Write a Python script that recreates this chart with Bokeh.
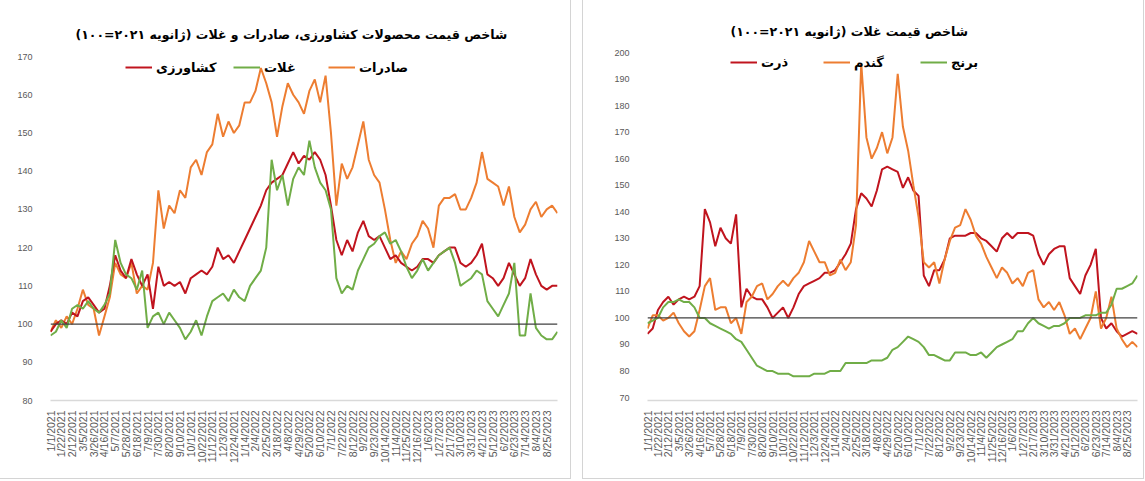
import math
from bokeh.plotting import figure
from bokeh.models import Range1d, FixedTicker, Span, Legend, LegendItem, Title
from bokeh.layouts import row
from bokeh.embed import file_html
from bokeh.resources import INLINE

# ---------------- data ----------------
tick_labels = ["1/1/2021", "1/22/2021", "2/12/2021", "3/5/2021", "3/26/2021", "4/16/2021",
               "5/7/2021", "5/28/2021", "6/18/2021", "7/9/2021", "7/30/2021", "8/20/2021",
               "9/10/2021", "10/1/2021", "10/22/2021", "11/12/2021", "12/3/2021", "12/24/2021",
               "1/14/2022", "2/4/2022", "2/25/2022", "3/18/2022", "4/8/2022", "4/29/2022",
               "5/20/2022", "6/10/2022", "7/1/2022", "7/22/2022", "8/12/2022", "9/2/2022",
               "9/23/2022", "10/14/2022", "11/4/2022", "11/25/2022", "12/16/2022", "1/6/2023",
               "1/27/2023", "2/17/2023", "3/10/2023", "3/31/2023", "4/21/2023", "5/12/2023",
               "6/2/2023", "6/23/2023", "7/14/2023", "8/4/2023", "8/25/2023"]
tick_step_days = 21
sample_step_days = 10.5

agri = [98, 100, 101, 100, 103, 102, 106, 107, 105, 103,
        104, 110, 118, 114, 112, 117, 113, 110, 113, 104,
        115, 110, 111, 110, 111, 108, 112, 113, 114, 113,
        115, 120, 117, 118, 116, 119, 122, 125, 128, 131,
        135, 137, 138, 139, 142, 145, 142, 144, 143, 145,
        143, 139, 131, 122, 118, 122, 119, 124, 127, 123,
        122, 123, 120, 117, 118, 116, 115, 114, 115, 117,
        117, 116, 118, 119, 120, 120, 116, 115, 116, 118,
        121, 113, 112, 110, 112, 116, 113, 110, 112, 117,
        113, 110, 109, 110, 110]
cereals = [97, 98, 101, 99, 104, 105, 104, 106, 104, 103,
           105, 108, 122, 116, 113, 112, 109, 114, 99, 102,
           103, 100, 103, 101, 99, 96, 98, 101, 97, 102,
           106, 107, 108, 106, 109, 107, 106, 110, 112, 114,
           120, 143, 135, 139, 131, 138, 141, 139, 148, 141,
           137, 135, 130, 112, 108, 110, 109, 114, 117, 120,
           121, 123, 124, 121, 122, 119, 115, 112, 114, 117,
           114, 116, 118, 119, 120, 116, 110, 111, 112, 114,
           113, 106, 104, 102, 105, 108, 116, 97, 97, 108,
           99, 97, 96, 96, 98]
exports = [98, 101, 99, 102, 100, 104, 109, 105, 104, 97,
           102, 107, 116, 113, 112, 116, 108, 110, 109, 116,
           135, 125, 131, 129, 135, 133, 141, 143, 139, 145,
           147, 155, 149, 153, 150, 152, 158, 158, 161, 167,
           163, 158, 149, 157, 163, 160, 158, 155, 161, 164,
           158, 165, 150, 131, 142, 138, 141, 147, 153, 143,
           139, 137, 130, 122, 116, 119, 117, 121, 123, 127,
           125, 120, 131, 133, 133, 134, 130, 130, 133, 137,
           145, 138, 137, 136, 131, 136, 128, 124, 126, 130,
           132, 128, 130, 131, 129]

corn = [94, 96, 103, 106, 108, 105, 107, 108, 107, 108,
        112, 141, 136, 127, 134, 130, 128, 139, 104, 111,
        108, 107, 107, 104, 100, 102, 104, 100, 104, 109,
        112, 113, 114, 115, 117, 117, 118, 121, 124, 128,
        141, 147, 145, 142, 148, 156, 157, 156, 155, 149,
        153, 148, 146, 116, 112, 118, 118, 122, 130, 131,
        131, 131, 132, 132, 130, 129, 127, 125, 130, 132,
        130, 132, 132, 132, 131, 124, 120, 124, 126, 127,
        127, 115, 112, 109, 116, 120, 126, 100, 96, 98,
        95, 93, 94, 95, 94]
wheat = [96, 101, 101, 99, 100, 102, 98, 95, 93, 95,
         103, 112, 115, 103, 104, 104, 98, 100, 94, 106,
         108, 112, 113, 107, 109, 112, 114, 112, 115, 117,
         121, 129, 125, 121, 121, 116, 117, 122, 118, 121,
         135, 196, 168, 160, 164, 170, 162, 168, 192, 172,
         163, 150, 138, 121, 119, 121, 113, 122, 129, 134,
         135, 141, 137, 131, 128, 123, 119, 115, 119, 117,
         113, 115, 112, 117, 118, 107, 104, 106, 103, 106,
         101, 94, 96, 92, 96, 100, 110, 96, 100, 108,
         96, 92, 89, 91, 89]
rice = [98, 99, 100, 104, 106, 106, 107, 106, 106, 104,
        100, 100, 98, 97, 96, 95, 94, 92, 91, 88,
        85, 82, 81, 80, 80, 79, 79, 79, 78, 78,
        78, 78, 79, 79, 79, 80, 80, 80, 83, 83,
        83, 83, 83, 84, 84, 84, 85, 88, 89, 91,
        93, 92, 91, 89, 86, 86, 85, 84, 84, 87,
        87, 87, 86, 86, 87, 85, 87, 89, 90, 91,
        92, 95, 95, 98, 100, 98, 97, 96, 97, 97,
        98, 100, 100, 100, 101, 101, 101, 102, 102, 105,
        111, 111, 112, 113, 116]

title_left = "شاخص قیمت محصولات کشاورزی، صادرات و غلات (ژانویه ۲۰۲۱=۱۰۰)\u200f"
title_right = "شاخص قیمت غلات (ژانویه ۲۰۲۱=۱۰۰)\u200f"
names_left = ["کشاورزی", "غلات", "صادرات"]
names_right = ["ذرت", "گندم", "برنج"]

RED = "#C0141E"
GREEN = "#70AD47"
ORANGE = "#ED7D31"
FA_FONT = "DejaVu Sans"

days = [i * sample_step_days for i in range(len(agri))]
tick_pos = [i * tick_step_days for i in range(len(tick_labels))]


def make_fig(width, mbl, mbr, y_lo, y_hi, y_ticks, title, title_offset, standoff):
    p = figure(width=width, height=478, output_backend="svg", toolbar_location=None,
               x_range=Range1d(0, 987), y_range=Range1d(y_lo, y_hi),
               min_border_left=mbl, min_border_right=mbr,
               min_border_top=52, min_border_bottom=78)
    p.title = Title(text=title, align="left", offset=title_offset,
                    text_font=FA_FONT, text_font_size="12.5px", text_font_style="bold",
                    text_color="black", standoff=standoff)
    p.outline_line_color = None
    p.xgrid.visible = False
    p.ygrid.visible = False
    p.background_fill_color = "white"
    p.border_fill_color = "white"
    p.styles = {"outline": "1px solid #d4d4d4"}

    p.xaxis.ticker = FixedTicker(ticks=tick_pos)
    p.xaxis.major_label_overrides = {t: l for t, l in zip(tick_pos, tick_labels)}
    p.xaxis.major_label_orientation = math.pi / 2
    p.xaxis.axis_line_color = "#d9d9d9"
    p.xaxis.axis_line_width = 1.5
    p.xaxis.major_tick_line_color = None
    p.xaxis.minor_tick_line_color = None
    p.xaxis.major_label_standoff = 4
    p.xaxis.major_label_text_font = "Liberation Sans"
    p.xaxis.major_label_text_font_size = "10.5px"
    p.xaxis.major_label_text_color = "#595959"

    p.yaxis.ticker = FixedTicker(ticks=y_ticks)
    p.yaxis.axis_line_color = None
    p.yaxis.major_tick_line_color = None
    p.yaxis.minor_tick_line_color = None
    p.yaxis.major_label_standoff = 12
    p.yaxis.major_label_text_font = "Liberation Sans"
    p.yaxis.major_label_text_font_size = "9px"
    p.yaxis.major_label_text_color = "#595959"

    p.add_layout(Span(location=100, dimension="width", line_color="#404040", line_width=1.3))
    return p


def add_legend(p, renderer, label, x, y):
    leg = Legend(items=[LegendItem(label=label, renderers=[renderer])],
                 location=(x, y), orientation="horizontal",
                 padding=0, margin=0, spacing=0,
                 glyph_width=27, glyph_height=20, label_standoff=4,
                 label_text_font=FA_FONT, label_text_font_size="13px",
                 label_text_font_style="bold", label_text_color="black",
                 border_line_color=None, background_fill_alpha=0)
    p.add_layout(leg)


# ---------------- left panel ----------------
p1 = make_fig(570, 50, 13, 80, 171.05, list(range(80, 171, 10)), title_left, 25, 22)
r_exp = p1.line(days, exports, line_color=ORANGE, line_width=2)
r_agr = p1.line(days, agri, line_color=RED, line_width=2)
r_cer = p1.line(days, cereals, line_color=GREEN, line_width=2)
add_legend(p1, r_agr, names_left[0], 75, 323)
add_legend(p1, r_cer, names_left[1], 183, 323)
add_legend(p1, r_exp, names_left[2], 278, 323)

# ---------------- right panel ----------------
p2 = make_fig(560, 64, 6, 68.9, 200, list(range(70, 201, 10)), title_right, 83, 27)
r_corn = p2.line(days, corn, line_color=RED, line_width=2)
r_wheat = p2.line(days, wheat, line_color=ORANGE, line_width=2)
r_rice = p2.line(days, rice, line_color=GREEN, line_width=2)
add_legend(p2, r_corn, names_right[0], 83, 328)
add_legend(p2, r_wheat, names_right[1], 176, 328)
add_legend(p2, r_rice, names_right[2], 273, 328)

layout = row(p1, p2, spacing=13)
open("out.html", "w").write(file_html(layout, INLINE))
